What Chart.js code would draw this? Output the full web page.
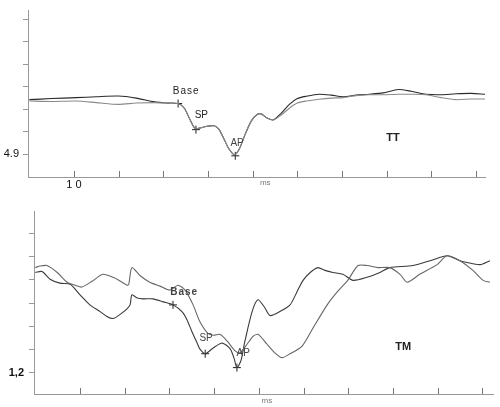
<!DOCTYPE html>
<html>
<head>
<meta charset="utf-8">
<script src="https://cdn.jsdelivr.net/npm/chart.js@4/dist/chart.umd.min.js"></script>
<style>
  html, body { margin: 0; padding: 0; background: #fff; }
  #wrap { position: relative; width: 500px; height: 407px; }
  .panel { position: absolute; left: 0; width: 500px; }
</style>
</head>
<body>
<div id="wrap">
  <div class="panel" style="top:0;height:200px"><canvas id="tt"></canvas></div>
  <div class="panel" style="top:200px;height:207px"><canvas id="tm"></canvas></div>
</div>
<script>
// time axis ticks (ms), shared by both panels
var xTicks = [10, 20, 30, 40, 50, 60, 70, 80, 90, 100];
var yTicks = [1, 2, 3, 4, 5, 6, 7];

// TT panel: both traces sampled on the same times
var ttTime = [0, 4.9, 10.5, 15, 19.9, 23.9, 28, 30.6, 33.3, 34.7, 36, 37.1, 38.5, 39.8, 41.4, 42.5, 43.6, 44.7, 45.9, 47, 48.3, 49.7, 51, 51.9, 53.2, 54.6, 56.4, 58.2, 60, 62, 64.9, 67.6, 70.2, 73.2, 76.1, 79.2, 82.6, 85.5, 88.8, 92.2, 95.5, 98.9, 102];
var ttDark = [3.43, 3.48, 3.52, 3.56, 3.59, 3.50, 3.33, 3.28, 3.26, 3.05, 2.53, 2.15, 2.19, 2.25, 2.27, 2.10, 1.67, 1.24, 0.99, 1.24, 1.89, 2.49, 2.77, 2.80, 2.62, 2.53, 2.83, 3.22, 3.48, 3.58, 3.67, 3.63, 3.56, 3.63, 3.67, 3.73, 3.88, 3.80, 3.67, 3.65, 3.69, 3.71, 3.67];
var ttLight = [3.37, 3.35, 3.37, 3.30, 3.22, 3.28, 3.30, 3.28, 3.26, 3.05, 2.53, 2.15, 2.19, 2.25, 2.27, 2.10, 1.67, 1.24, 0.99, 1.24, 1.89, 2.49, 2.77, 2.80, 2.62, 2.53, 2.75, 3.05, 3.28, 3.37, 3.45, 3.50, 3.52, 3.61, 3.65, 3.65, 3.67, 3.67, 3.65, 3.52, 3.43, 3.46, 3.46];
var ttMarkX = [33.3, 37.3, 46.1];
var ttMarkY = [3.26, 2.1, 0.94];

// TM panel
var tmUpperTime = [0, 1.05, 2.6, 4.9, 7.1, 8.9, 10.4, 12.7, 15.1, 17.4, 19.4, 20.5, 20.9, 21.6, 23.4, 25.6, 27.9, 30.1, 31.9, 33.5, 35.3, 36.8, 38.6, 39.9, 41.3, 42.9, 44.7, 45.8, 47.4, 48.7, 49.8, 50.9, 51.8, 53.6, 55.2, 57, 59.7, 62.1, 65.3, 67.5, 69.9, 72.2, 74.2, 76.7, 79.3, 81.6, 83.2, 86, 89.9, 92.1, 95, 97.9, 100.2, 101.7];
var tmUpper = [5.53, 5.60, 5.62, 5.32, 4.90, 4.77, 4.69, 4.94, 5.24, 5.11, 4.90, 4.77, 4.81, 5.53, 5.19, 4.90, 4.73, 4.56, 4.77, 4.56, 3.92, 3.20, 2.69, 2.61, 2.65, 2.36, 1.93, 1.85, 2.23, 2.56, 2.65, 2.44, 2.23, 1.85, 1.64, 1.81, 2.14, 2.91, 3.92, 4.47, 4.98, 5.62, 5.62, 5.53, 5.53, 5.24, 4.90, 5.24, 5.66, 6.04, 5.83, 5.41, 4.98, 4.90];
var tmLowerTime = [0, 1.5, 3.3, 5.5, 7.8, 10, 12.2, 14.5, 16, 17.4, 18.9, 20.5, 21.2, 21.6, 22.8, 24.1, 26.3, 28.6, 30.8, 32.8, 33.9, 35, 36.2, 36.8, 38, 39.8, 41.8, 43.6, 44.5, 45.1, 46, 46.9, 48.5, 49.8, 51.2, 52.5, 54.7, 57, 58.5, 59.9, 61.5, 63.2, 64.8, 66.6, 68.8, 71.1, 74.2, 77.1, 79.3, 84.5, 89, 92.1, 95, 96.6, 99.5, 101.7];
var tmLower = [5.32, 5.36, 5.03, 4.86, 4.81, 4.35, 3.92, 3.63, 3.42, 3.33, 3.50, 3.75, 3.92, 4.35, 4.22, 4.18, 4.18, 4.05, 3.92, 3.63, 3.29, 2.78, 2.27, 2.02, 1.81, 2.06, 2.27, 2.02, 1.59, 1.21, 1.51, 2.36, 3.63, 4.14, 3.84, 3.46, 3.63, 3.92, 4.47, 4.98, 5.32, 5.53, 5.41, 5.32, 5.24, 4.98, 5.11, 5.32, 5.53, 5.62, 5.87, 6.04, 5.83, 5.75, 5.66, 5.83];
var tmMarkX = [30.8, 38, 45.1];
var tmMarkY = [3.92, 1.81, 1.21];

// text notes placed in data units
var ttNotes = [
    { text: 'Base', x: 35.1, y: 3.82, font: '10px "Liberation Sans"', color: '#222', spacing: '1px' },
    { text: 'SP', x: 38.5, y: 2.75, font: '10px "Liberation Sans"', color: '#222' },
    { text: 'AP', x: 46.5, y: 1.50, font: '10px "Liberation Sans"', color: '#444' },
    { text: 'TT', x: 81.4, y: 1.72, font: 'bold 11px "Liberation Sans"', color: '#222' },
    { text: 'ms', x: 52.8, y: -0.26, font: '8px "Liberation Sans"', color: '#777' }
];
var tmNotes = [
    { text: 'Base', x: 33.3, y: 4.47, font: 'bold 10px "Liberation Sans"', color: '#444', spacing: '1px' },
    { text: 'SP', x: 38.2, y: 2.48, font: '10px "Liberation Sans"', color: '#444' },
    { text: 'AP', x: 46.5, y: 1.81, font: '10px "Liberation Sans"', color: '#444' },
    { text: 'TM', x: 82.3, y: 2.10, font: 'bold 11px "Liberation Sans"', color: '#222' },
    { text: 'ms', x: 51.8, y: -0.23, font: '8px "Liberation Sans"', color: '#777' }
];

function pairs(xs, ys) {
    return xs.map(function (x, i) { return { x: x, y: ys[i] }; });
}

function traceSet(xs, ys, color) {
    return {
        data: pairs(xs, ys),
        borderColor: color,
        borderWidth: 1.1,
        pointRadius: 0,
        tension: 0.25,
        fill: false
    };
}

function markSet(xs, ys) {
    return {
        data: pairs(xs, ys),
        showLine: false,
        pointStyle: 'cross',
        pointRadius: 4,
        borderColor: '#222',
        borderWidth: 1,
        backgroundColor: '#222'
    };
}

// small upward tick marks on the time axis
var upTicks = {
    id: 'upTicks',
    afterDraw: function (chart) {
        var xs = chart.scales.x;
        var ctx = chart.ctx;
        var len = chart.options.plugins.upTicks.len;
        ctx.save();
        ctx.strokeStyle = '#777';
        ctx.lineWidth = 1;
        xs.ticks.forEach(function (t, i) {
            var px = Math.round(xs.getPixelForTick(i)) + 0.5;
            ctx.beginPath();
            ctx.moveTo(px, chart.chartArea.bottom);
            ctx.lineTo(px, chart.chartArea.bottom - len);
            ctx.stroke();
        });
        ctx.restore();
    }
};

var notesPlugin = {
    id: 'notes',
    afterDraw: function (chart) {
        var notes = chart.options.plugins.notes.list;
        var ctx = chart.ctx;
        ctx.save();
        ctx.textAlign = 'center';
        ctx.textBaseline = 'middle';
        notes.forEach(function (n) {
            ctx.font = n.font;
            ctx.fillStyle = n.color;
            ctx.letterSpacing = n.spacing || '0px';
            ctx.fillText(n.text, chart.scales.x.getPixelForValue(n.x), chart.scales.y.getPixelForValue(n.y));
        });
        ctx.restore();
    }
};

function makeChart(id, cfg) {
    return new Chart(document.getElementById(id), {
        type: 'line',
        data: { datasets: cfg.datasets },
        plugins: [upTicks, notesPlugin],
        options: {
            responsive: true,
            maintainAspectRatio: false,
            animation: false,
            layout: { padding: cfg.padding },
            plugins: {
                legend: { display: false },
                tooltip: { enabled: false },
                upTicks: { len: cfg.tickLen },
                notes: { list: cfg.notes }
            },
            scales: {
                x: {
                    type: 'linear',
                    min: -0.3,
                    max: cfg.xMax,
                    border: { color: '#999', width: 1 },
                    grid: { drawOnChartArea: false, drawTicks: false },
                    afterBuildTicks: function (s) { s.ticks = xTicks.map(function (v) { return { value: v }; }); },
                    afterFit: function (s) { s.height = cfg.xHeight; },
                    ticks: {
                        autoSkip: false,
                        maxRotation: 0,
                        padding: 1,
                        color: '#111',
                        font: { family: 'Liberation Sans', size: 11 },
                        callback: function (v) { return v === 10 && cfg.showTen ? '1 0' : ''; }
                    }
                },
                y: {
                    type: 'linear',
                    min: cfg.yMin,
                    max: cfg.yMax,
                    border: { color: '#999', width: 1 },
                    grid: { drawOnChartArea: false, drawTicks: true, tickLength: 5, color: '#999' },
                    afterBuildTicks: function (s) { s.ticks = yTicks.map(function (v) { return { value: v }; }); },
                    afterFit: function (s) { s.width = cfg.yWidth; },
                    ticks: {
                        padding: cfg.yPad,
                        color: '#111',
                        font: cfg.yFont,
                        callback: function (v) { return v === 1 ? cfg.yLabel : ''; }
                    }
                }
            }
        }
    });
}

makeChart('tt', {
    datasets: [
        traceSet(ttTime, ttLight, '#8a8a8a'),
        traceSet(ttTime, ttDark, '#2a2a2a'),
        markSet(ttMarkX, ttMarkY)
    ],
    padding: { left: 0, right: 15, top: 5, bottom: 0 },
    xMax: 102,
    xHeight: 23,
    yMin: 0,
    yMax: 7.38,
    yWidth: 28,
    yPad: 4,
    yFont: { family: 'Liberation Sans', size: 11 },
    yLabel: '4.9',
    showTen: true,
    tickLen: 6,
    notes: ttNotes
});

makeChart('tm', {
    datasets: [
        traceSet(tmUpperTime, tmUpper, '#666'),
        traceSet(tmLowerTime, tmLower, '#3a3a3a'),
        markSet(tmMarkX, tmMarkY)
    ],
    padding: { left: 0, right: 7, top: 8, bottom: 0 },
    xMax: 102.4,
    xHeight: 13,
    yMin: 0.07,
    yMax: 7.95,
    yWidth: 34,
    yPad: 5,
    yFont: { family: 'Liberation Sans', size: 11, weight: 'bold' },
    yLabel: '1,2',
    showTen: false,
    tickLen: 6,
    notes: tmNotes
});
</script>
</body>
</html>
